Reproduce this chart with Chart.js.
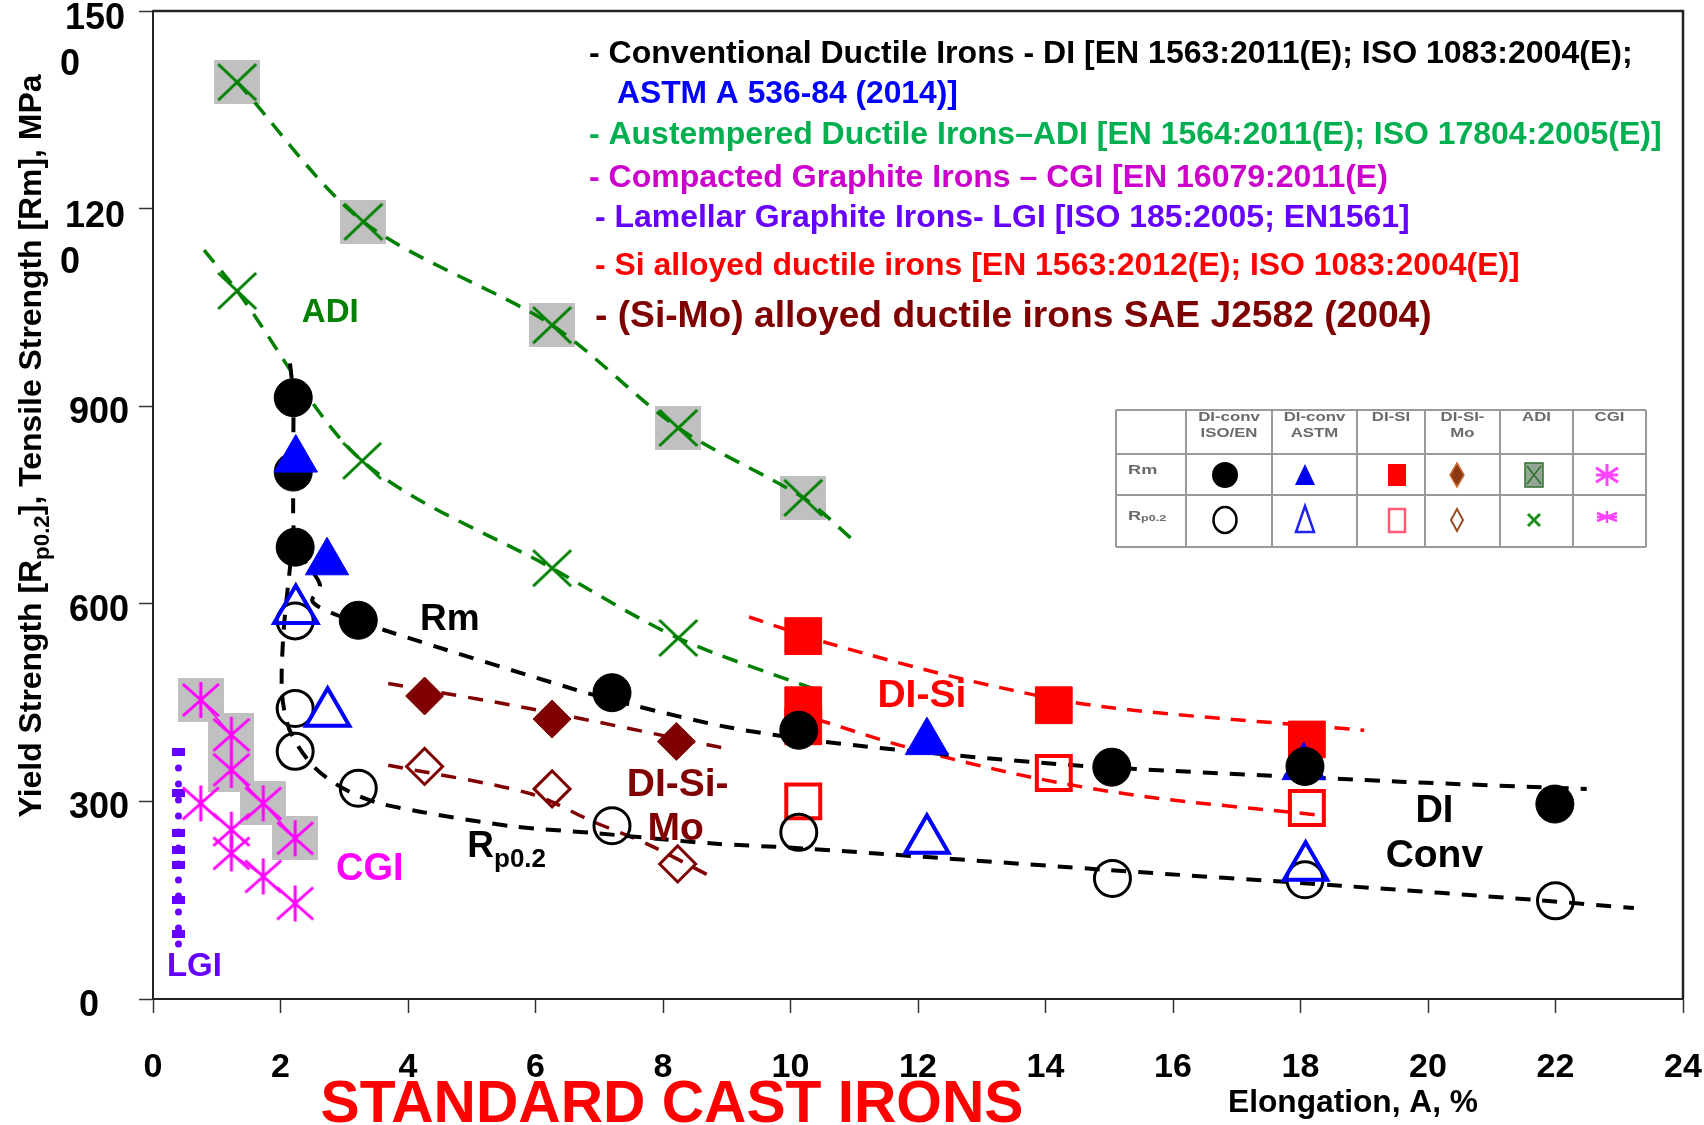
<!DOCTYPE html>
<html>
<head>
<meta charset="utf-8">
<title>Standard cast irons - strength vs elongation</title>
<script src="https://cdn.jsdelivr.net/npm/chart.js@4.4.1/dist/chart.umd.min.js"></script>
<style>
  html, body { margin: 0; padding: 0; background: #fff; }
  canvas { display: block; }
</style>
</head>
<body>
<canvas id="chart" width="1704" height="1125"></canvas>
<script>
// Strength (MPa) vs elongation A (%) for standard cast irons.
// Values are read off the original figure, so they are approximate.

const family = '"Liberation Sans", Arial, sans-serif';

const yTickLabels = ['0', '300', '600', '900', '1200', '1500'];

// conventional ductile iron, ISO/EN
const diRmX = [2.2, 2.2, 2.23, 3.22, 7.2, 10.13, 15.04, 18.07, 21.99];
const diRmY = [913, 800, 686, 575, 465, 408, 352, 353, 296];
const diRpX = [2.23, 2.23, 2.23, 3.22, 7.2, 10.13, 15.05, 18.07, 22.0];
const diRpY = [574, 441, 376, 320, 263, 253, 183, 181, 149];

// conventional ductile iron, ASTM
const astmRmX = [2.24, 2.73, 12.14, 18.05];
const astmRmY = [819, 663, 390, 352];
const astmRpX = [2.24, 2.74, 12.14, 18.08];
const astmRpY = [590, 434, 241, 200];

// Si alloyed ductile iron
const siRmX = [10.2, 10.2, 10.2, 14.13, 18.1];
const siRmY = [551, 446, 414, 446, 394];
const siRpX = [10.2, 14.13, 18.1];
const siRpY = [300, 343, 290];

// Si-Mo alloyed ductile iron
const simoRmX = [4.26, 6.26, 8.21];
const simoRmY = [460, 425, 391];
const simoRpX = [4.26, 6.26, 8.23];
const simoRpY = [353, 319, 205];

// austempered ductile iron
const adiRmX = [1.32, 3.3, 6.26, 8.24, 10.2];
const adiRmY = [1392, 1180, 1023, 867, 761];
const adiRpX = [1.32, 3.28, 6.26, 8.24];
const adiRpY = [1075, 817, 654, 548];

// compacted graphite iron
const cgiRmX = [0.75, 1.23, 1.23, 1.73, 2.23];
const cgiRmY = [454, 401, 348, 297, 244];
const cgiRpX = [0.75, 1.23, 1.23, 1.73, 2.23];
const cgiRpY = [297, 257, 221, 186, 145];

// lamellar graphite iron
const lgiX = [0.4, 0.4, 0.4, 0.4, 0.4, 0.4, 0.4];
const lgiY = [375, 312, 252, 226, 203, 150, 99];
const lgiLineX = [0.4, 0.4];
const lgiLineY = [375, 81];

// hand drawn trend lines
const diRmLineX = [2.15, 2.2, 2.2, 2.23, 2.41, 2.62, 2.5, 2.88, 3.22, 3.69, 6.65, 7.53, 9.0, 10.5, 12.47, 14.74, 19.56, 22.49];
const diRmLineY = [965, 913, 800, 686, 661, 628, 604, 583, 575, 558, 469, 446, 413, 391, 371, 353, 330, 319];
const diRpLineX = [2.16, 2.05, 2.02, 2.1, 2.25, 2.5, 2.78, 3.14, 3.56, 4.21, 5.65, 6.91, 8.79, 10.14, 14.96, 18.63, 21.74, 23.23];
const diRpLineY = [665, 560, 470, 420, 388, 355, 332, 312, 297, 284, 262, 252, 236, 229, 196, 172, 150, 138];
const adiRmLineX = [1.32, 3.3, 6.26, 8.24, 10.2, 10.98];
const adiRmLineY = [1392, 1180, 1023, 867, 761, 697];
const adiRpLineX = [0.8, 1.32, 3.28, 6.26, 8.24, 10.5];
const adiRpLineY = [1137, 1075, 817, 654, 548, 466];
const siRmLineX = [9.35, 10.6, 12.78, 14.88, 19.0];
const siRmLineY = [580, 540, 484, 444, 408];
const siRpLineX = [10.4, 11.8, 13.76, 15.58, 18.31];
const siRpLineY = [425, 383, 337, 307, 279];
const simoRmLineX = [3.69, 6.02, 8.95];
const simoRmLineY = [479, 439, 381];
const simoRpLineX = [3.69, 5.91, 6.91, 7.74, 8.71];
const simoRpLineY = [355, 312, 269, 236, 188];

const pts = (xs, ys) => xs.map((x, i) => ({ x: x, y: ys[i] }));

function makeMarker(w, h, draw) {
    const c = document.createElement('canvas');
    c.width = w;
    c.height = h;
    draw(c.getContext('2d'), w, h);
    return c;
}

const grayBox = makeMarker(46, 44, (g, w, h) => {
    g.fillStyle = '#c0c0c0';
    g.fillRect(0, 0, w, h);
});
const greenCross = makeMarker(42, 40, (g, w, h) => {
    g.strokeStyle = '#008000';
    g.lineWidth = 3;
    g.beginPath();
    g.moveTo(2, 2); g.lineTo(w - 2, h - 2);
    g.moveTo(w - 2, 2); g.lineTo(2, h - 2);
    g.stroke();
});
const pinkStar = makeMarker(40, 38, (g, w, h) => {
    g.strokeStyle = '#ff00ff';
    g.lineWidth = 3;
    g.beginPath();
    g.moveTo(w / 2, 1); g.lineTo(w / 2, h - 1);
    g.moveTo(2, 3); g.lineTo(w - 2, h - 3);
    g.moveTo(w - 2, 3); g.lineTo(2, h - 3);
    g.stroke();
});
const lgiMark = makeMarker(13, 8, (g, w, h) => {
    g.fillStyle = '#6600ff';
    g.fillRect(0, 0, w, h);
});

function markers(xs, ys, style, radius, fill, stroke, width, order) {
    return {
        data: pts(xs, ys),
        showLine: false,
        pointStyle: style,
        pointRadius: radius,
        pointBackgroundColor: fill,
        pointBorderColor: stroke,
        pointBorderWidth: width,
        order: order
    };
}

function trend(xs, ys, color, width, dash) {
    return {
        data: pts(xs, ys),
        showLine: true,
        borderColor: color,
        borderWidth: width,
        borderDash: dash,
        pointRadius: 0,
        tension: 0.3,
        fill: false,
        order: 20
    };
}

const none = 'rgba(0,0,0,0)';
const datasets = [
    // blue ASTM triangles; the last filled one sits behind the black circle
    markers(astmRmX.slice(0, 3), astmRmY.slice(0, 3), 'triangle', 25, '#0000ff', '#0000ff', 1, 1),
    markers(astmRpX, astmRpY, 'triangle', 25, none, '#0000ff', 4, 1),
    markers(diRmX, diRmY, 'circle', 19, '#000', '#000', 1, 2),
    markers(diRpX, diRpY, 'circle', 18, none, '#000', 3, 2),
    markers(astmRmX.slice(3), astmRmY.slice(3), 'triangle', 25, '#0000ff', '#0000ff', 1, 3),
    markers(siRmX, siRmY, 'rect', 26, '#ff0000', '#ff0000', 1, 4),
    markers(siRpX, siRpY, 'rect', 24, none, '#ff0000', 4, 4),
    markers(simoRmX, simoRmY, 'rectRot', 19, '#800000', '#800000', 1, 4),
    markers(simoRpX, simoRpY, 'rectRot', 18, none, '#800000', 3, 4),
    markers(adiRmX, adiRmY, greenCross, 20, none, none, 0, 5),
    markers(adiRpX, adiRpY, greenCross, 20, none, none, 0, 5),
    markers(cgiRpX, cgiRpY, pinkStar, 20, none, none, 0, 5),
    markers(cgiRmX, cgiRmY, pinkStar, 20, none, none, 0, 6),
    markers(lgiX, lgiY, lgiMark, 8, none, none, 0, 6),

    trend(diRmLineX, diRmLineY, '#000', 4, [15, 12]),
    trend(diRpLineX, diRpLineY, '#000', 4, [15, 12]),
    trend(adiRmLineX, adiRmLineY, '#008000', 3.5, [16, 11]),
    trend(adiRpLineX, adiRpLineY, '#008000', 3.5, [16, 11]),
    trend(siRmLineX, siRmLineY, '#ff0000', 3.5, [15, 11]),
    trend(siRpLineX, siRpLineY, '#ff0000', 3.5, [15, 11]),
    trend(simoRmLineX, simoRmLineY, '#800000', 3.5, [15, 12]),
    trend(simoRpLineX, simoRpLineY, '#800000', 3.5, [15, 12]),
    Object.assign(trend(cgiRmX, cgiRmY, '#ff00ff', 1.5, []), { tension: 0 }),
    Object.assign(trend(cgiRpX, cgiRpY, '#ff00ff', 1.5, []), { tension: 0 }),
    Object.assign(trend(lgiLineX, lgiLineY, '#6600ff', 7, [0, 16]), { tension: 0, borderCapStyle: 'round' }),

    // grey boxes behind the Rm crosses and stars
    markers(adiRmX, adiRmY, grayBox, 23, none, none, 0, 30),
    markers(cgiRmX, cgiRmY, grayBox, 23, none, none, 0, 30)
];

function fitSize(ctx, text, target) {
    ctx.font = 'bold 100px ' + family;
    return 100 * target / ctx.measureText(text).width;
}

const legendLines = [
    ['- Conventional Ductile Irons - DI [EN 1563:2011(E); ISO 1083:2004(E);', '#000000', 589, 1633, 54],
    ['ASTM A 536-84 (2014)]', '#0000ff', 617, 958, 94],
    ['- Austempered Ductile Irons\u2013ADI [EN 1564:2011(E); ISO 17804:2005(E)]', '#00b050', 589, 1662, 135],
    ['- Compacted Graphite Irons \u2013 CGI [EN 16079:2011(E)', '#cc00cc', 589, 1388, 178],
    ['- Lamellar Graphite Irons- LGI [ISO 185:2005; EN1561]', '#6600ff', 595, 1410, 218],
    ['- Si alloyed ductile irons [EN 1563:2012(E); ISO 1083:2004(E)]', '#ff0000', 595, 1520, 266],
    ['- (Si-Mo) alloyed ductile irons SAE J2582 (2004)', '#7f0000', 595, 1432, 317]
];

// [text, colour, size, x, y] in data units, centred
const plotLabels = [
    ['ADI', '#008000', 33, 2.78, 1041],
    ['CGI', '#ff00ff', 38, 3.4, 197],
    ['LGI', '#6600ff', 33, 0.65, 49],
    ['DI-Si-', '#800000', 39, 8.23, 324],
    ['Mo', '#800000', 39, 8.2, 257],
    ['DI-Si', '#ff0000', 39, 12.06, 459],
    ['DI', '#000000', 38, 20.1, 284],
    ['Conv', '#000000', 39, 20.1, 216]
];

function drawTable(ctx) {
    const cols = [1116, 1186, 1272, 1357, 1425, 1500, 1573, 1646];
    const rows = [410, 454, 495, 547];
    ctx.save();
    ctx.fillStyle = '#fff';
    ctx.fillRect(cols[0], rows[0], cols[7] - cols[0], rows[3] - rows[0]);
    ctx.strokeStyle = '#9a9a9a';
    ctx.lineWidth = 2;
    ctx.beginPath();
    cols.forEach(c => { ctx.moveTo(c, rows[0]); ctx.lineTo(c, rows[3]); });
    rows.forEach(r => { ctx.moveTo(cols[0], r); ctx.lineTo(cols[7], r); });
    ctx.stroke();

    const heads = [['DI-conv', 'ISO/EN'], ['DI-conv', 'ASTM'], ['DI-SI'], ['DI-SI-', 'Mo'], ['ADI'], ['CGI']];
    const stretched = (text, x, y, size, align) => {
        ctx.save();
        ctx.translate(x, y);
        ctx.scale(1.4, 1);
        ctx.font = 'bold ' + size + 'px ' + family;
        ctx.textAlign = align;
        ctx.textBaseline = 'middle';
        ctx.fillText(text, 0, 0);
        ctx.restore();
    };
    ctx.fillStyle = '#6a6a6a';
    heads.forEach((h, i) => {
        const cx = (cols[i + 1] + cols[i + 2]) / 2;
        h.forEach((t, j) => stretched(t, cx, 418 + j * 15.5, 12, 'center'));
    });
    stretched('Rm', 1128, 470, 13, 'left');
    stretched('R', 1128, 516, 13, 'left');
    stretched('p0.2', 1141, 519, 9, 'left');

    const sx = [1225, 1305, 1397, 1457, 1534, 1607];
    const r1 = 475, r2 = 520;
    // row Rm
    ctx.fillStyle = '#000';
    ctx.beginPath(); ctx.arc(sx[0], r1, 13, 0, Math.PI * 2); ctx.fill();
    ctx.fillStyle = '#0000ee';
    ctx.beginPath(); ctx.moveTo(sx[1], r1 - 11); ctx.lineTo(sx[1] + 10, r1 + 10); ctx.lineTo(sx[1] - 10, r1 + 10); ctx.closePath(); ctx.fill();
    ctx.fillStyle = '#ff0000';
    ctx.fillRect(sx[2] - 9, r1 - 11, 18, 22);
    ctx.fillStyle = '#8b3a10';
    ctx.strokeStyle = '#cc6633';
    ctx.lineWidth = 1.5;
    ctx.beginPath(); ctx.moveTo(sx[3], r1 - 12); ctx.lineTo(sx[3] + 7, r1); ctx.lineTo(sx[3], r1 + 12); ctx.lineTo(sx[3] - 7, r1); ctx.closePath(); ctx.fill(); ctx.stroke();
    ctx.fillStyle = '#93a593';
    ctx.strokeStyle = '#2f6f2f';
    ctx.fillRect(sx[4] - 9, r1 - 12, 18, 24);
    ctx.strokeRect(sx[4] - 9, r1 - 12, 18, 24);
    ctx.beginPath(); ctx.moveTo(sx[4] - 7, r1 - 9); ctx.lineTo(sx[4] + 7, r1 + 9); ctx.moveTo(sx[4] + 7, r1 - 9); ctx.lineTo(sx[4] - 7, r1 + 9); ctx.stroke();
    const star = (x, y, w, h, lw) => {
        ctx.strokeStyle = '#ff44ff';
        ctx.lineWidth = lw;
        ctx.beginPath();
        ctx.moveTo(x, y - h / 2); ctx.lineTo(x, y + h / 2);
        ctx.moveTo(x - w / 2, y - h / 3); ctx.lineTo(x + w / 2, y + h / 3);
        ctx.moveTo(x + w / 2, y - h / 3); ctx.lineTo(x - w / 2, y + h / 3);
        ctx.moveTo(x - w / 2, y); ctx.lineTo(x + w / 2, y);
        ctx.stroke();
    };
    star(sx[5], r1, 22, 22, 3);
    // row Rp0.2
    ctx.strokeStyle = '#000';
    ctx.lineWidth = 2.5;
    ctx.beginPath(); ctx.ellipse(sx[0], r2, 11.5, 13, 0, 0, Math.PI * 2); ctx.stroke();
    ctx.strokeStyle = '#2222ee';
    ctx.beginPath(); ctx.moveTo(sx[1], r2 - 14); ctx.lineTo(sx[1] + 9, r2 + 12); ctx.lineTo(sx[1] - 9, r2 + 12); ctx.closePath(); ctx.stroke();
    ctx.strokeStyle = '#ff5a78';
    ctx.strokeRect(sx[2] - 8, r2 - 11, 16, 23);
    ctx.strokeStyle = '#9a4a20';
    ctx.lineWidth = 2;
    ctx.beginPath(); ctx.moveTo(sx[3], r2 - 11); ctx.lineTo(sx[3] + 6, r2); ctx.lineTo(sx[3], r2 + 11); ctx.lineTo(sx[3] - 6, r2); ctx.closePath(); ctx.stroke();
    ctx.strokeStyle = '#1f8f1f';
    ctx.lineWidth = 3;
    ctx.beginPath(); ctx.moveTo(sx[4] - 6, r2 - 6); ctx.lineTo(sx[4] + 6, r2 + 6); ctx.moveTo(sx[4] + 6, r2 - 6); ctx.lineTo(sx[4] - 6, r2 + 6); ctx.stroke();
    star(sx[5], r2 - 3, 20, 12, 2.5);
    ctx.restore();
}

const decorations = {
    id: 'decorations',
    afterDraw(chart) {
        const ctx = chart.ctx;
        const a = chart.chartArea;
        const xs = chart.scales.x;
        const ys = chart.scales.y;
        ctx.save();

        // frame on top and right
        ctx.strokeStyle = '#222';
        ctx.lineWidth = 2.5;
        ctx.beginPath();
        ctx.moveTo(a.left, a.top);
        ctx.lineTo(a.right, a.top);
        ctx.lineTo(a.right, a.bottom);
        ctx.stroke();

        // y tick labels, the four digit ones wrap like in the original
        ctx.fillStyle = '#000';
        ctx.font = 'bold 36px ' + family;
        ctx.textAlign = 'center';
        ctx.textBaseline = 'middle';
        ys.ticks.forEach((t, i) => {
            const py = ys.getPixelForValue(t.value);
            const label = yTickLabels[i];
            if (label.length > 3) {
                ctx.fillText(label.slice(0, 3), 95, py + 8);
                ctx.fillText(label.slice(3), 70, py + 54);
            } else {
                ctx.fillText(label, label.length === 1 ? 89 : 99, py + 7);
            }
        });

        // y axis title with subscript
        const parts = [['Yield Strength [R', false], ['p0.2', true], ['], Tensile Strength [Rm], MPa', false]];
        const measure = s => parts.reduce((w, p) => {
            ctx.font = 'bold ' + (p[1] ? s * 0.7 : s) + 'px ' + family;
            return w + ctx.measureText(p[0]).width;
        }, 0);
        const ts = 100 * 743 / measure(100);
        const total = measure(ts);
        ctx.save();
        ctx.translate(30, 446);
        ctx.rotate(-Math.PI / 2);
        ctx.textAlign = 'left';
        ctx.textBaseline = 'alphabetic';
        let cx = -total / 2;
        parts.forEach(p => {
            ctx.font = 'bold ' + (p[1] ? ts * 0.7 : ts) + 'px ' + family;
            ctx.fillText(p[0], cx, ts * 0.36 + (p[1] ? ts * 0.25 : 0));
            cx += ctx.measureText(p[0]).width;
        });
        ctx.restore();

        // x axis title and caption
        ctx.textBaseline = 'middle';
        ctx.font = 'bold ' + fitSize(ctx, 'Elongation, A, %', 250) + 'px ' + family;
        ctx.fillText('Elongation, A, %', 1353, 1103);
        ctx.fillStyle = '#ff0000';
        ctx.textBaseline = 'alphabetic';
        ctx.font = 'bold ' + fitSize(ctx, 'STANDARD CAST IRONS', 703) + 'px ' + family;
        ctx.fillText('STANDARD CAST IRONS', 672, 1122);

        // legend text block
        ctx.textAlign = 'left';
        ctx.textBaseline = 'middle';
        legendLines.forEach(l => {
            ctx.font = 'bold ' + fitSize(ctx, l[0], l[3] - l[2]) + 'px ' + family;
            ctx.fillStyle = l[1];
            ctx.fillText(l[0], l[2], l[4]);
        });

        // group labels inside the plot
        ctx.textAlign = 'center';
        plotLabels.forEach(l => {
            ctx.font = 'bold ' + l[2] + 'px ' + family;
            ctx.fillStyle = l[1];
            ctx.fillText(l[0], xs.getPixelForValue(l[3]), ys.getPixelForValue(l[4]));
        });

        // Rm and Rp0.2 curve labels
        ctx.fillStyle = '#000';
        ctx.textAlign = 'left';
        ctx.textBaseline = 'alphabetic';
        ctx.font = 'bold 37px ' + family;
        ctx.fillText('Rm', xs.getPixelForValue(4.19), ys.getPixelForValue(560));
        const rx = xs.getPixelForValue(4.93);
        const ry = ys.getPixelForValue(216);
        ctx.fillText('R', rx, ry);
        const rw = ctx.measureText('R').width;
        ctx.font = 'bold 26px ' + family;
        ctx.fillText('p0.2', rx + rw, ry + 10);

        drawTable(ctx);
        ctx.restore();
    }
};

const axisGrid = { drawOnChartArea: false, tickLength: 14, tickColor: '#333', tickWidth: 1.5 };

function noPadding(scale) {
    scale.paddingLeft = 0;
    scale.paddingRight = 0;
    scale.paddingTop = 0;
    scale.paddingBottom = 0;
}

new Chart(document.getElementById('chart'), {
    type: 'scatter',
    data: { datasets: datasets },
    options: {
        responsive: false,
        animation: false,
        events: [],
        layout: { autoPadding: false, padding: { left: 0, right: 21, top: 11, bottom: 0 } },
        plugins: {
            legend: { display: false },
            tooltip: { enabled: false }
        },
        scales: {
            x: {
                type: 'linear',
                min: 0,
                max: 24,
                ticks: {
                    stepSize: 2,
                    padding: 34,
                    color: '#000',
                    font: { family: family, size: 34, weight: 'bold' }
                },
                grid: axisGrid,
                border: { color: '#222', width: 2 },
                afterFit(scale) { scale.height = 126; noPadding(scale); }
            },
            y: {
                type: 'linear',
                min: 0,
                max: 1500,
                ticks: { stepSize: 300, display: false },
                grid: axisGrid,
                border: { color: '#222', width: 2 },
                afterFit(scale) { scale.width = 153; noPadding(scale); }
            }
        }
    },
    plugins: [decorations]
});
</script>
</body>
</html>
